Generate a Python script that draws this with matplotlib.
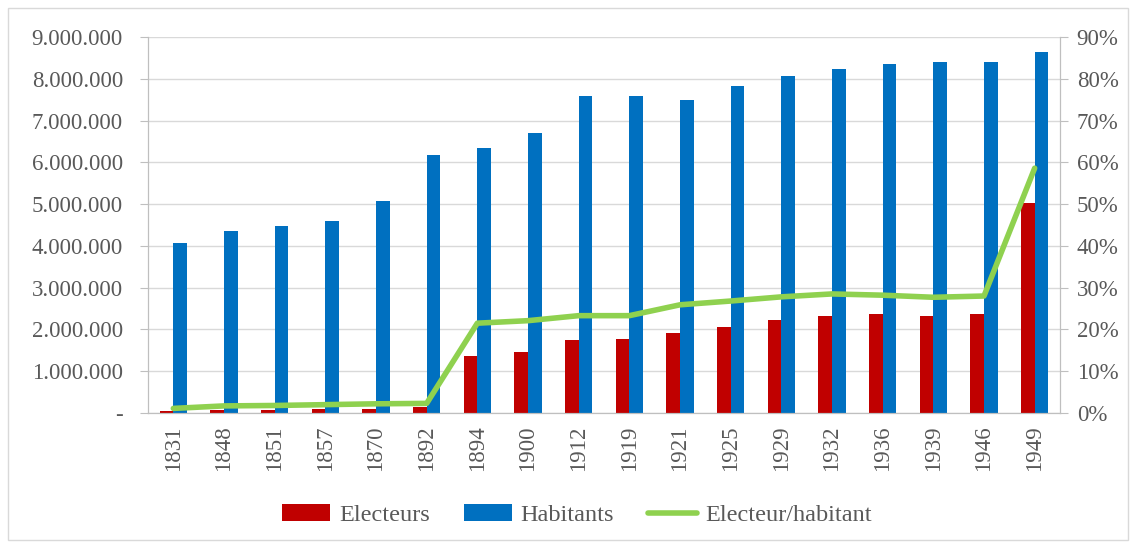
import matplotlib.pyplot as plt
import matplotlib.ticker as mticker
from matplotlib.patches import Rectangle
import numpy as np

years = ["1831", "1848", "1851", "1857", "1870", "1892", "1894", "1900", "1912",
         "1919", "1921", "1925", "1929", "1932", "1936", "1939", "1946", "1949"]
electeurs = [46000, 79000, 81000, 91000, 107000, 137000, 1360000, 1470000, 1750000,
             1760000, 1920000, 2070000, 2230000, 2330000, 2360000, 2330000, 2360000, 5030000]
habitants = [4070000, 4360000, 4480000, 4600000, 5070000, 6180000, 6340000, 6700000, 7590000,
             7590000, 7490000, 7830000, 8070000, 8230000, 8350000, 8400000, 8400000, 8640000]
ratio = [0.011, 0.017, 0.018, 0.020, 0.022, 0.023, 0.215, 0.221, 0.233,
         0.233, 0.259, 0.268, 0.278, 0.285, 0.282, 0.277, 0.280, 0.586]

plt.rcParams['font.family'] = ['Liberation Serif', 'DejaVu Serif']
grey = '#595959'

fig = plt.figure(figsize=(11.31, 5.43), dpi=100)
fig.patches.append(Rectangle((0.007, 0.005), 0.99, 0.98, transform=fig.transFigure,
                             fill=False, edgecolor='#d9d9d9', linewidth=1))
ax = fig.add_axes([148 / 1131, 1 - 413 / 543, 912 / 1131, 376 / 543])
ax2 = ax.twinx()

x = np.arange(len(years))
w = 0.27
ax.bar(x - w / 2, electeurs, w, color='#c00000', label='Electeurs', zorder=2)
ax.bar(x + w / 2, habitants, w, color='#0070c0', label='Habitants', zorder=2)
ax2.plot(x, ratio, color='#8fd14f', linewidth=4, label='Electeur/habitant',
         solid_joinstyle='round', solid_capstyle='round')

ax.set_xlim(-0.5, len(years) - 0.5)
ax.set_ylim(0, 9000000)
ax2.set_ylim(0, 0.9)

def fmt_left(v, pos):
    if v == 0:
        return '-'
    return f"{int(v):,}".replace(',', '.')

ax.yaxis.set_major_locator(mticker.MultipleLocator(1000000))
ax.yaxis.set_major_formatter(mticker.FuncFormatter(fmt_left))
ax2.yaxis.set_major_locator(mticker.MultipleLocator(0.1))
ax2.yaxis.set_major_formatter(mticker.PercentFormatter(1.0, decimals=0))

ax.set_xticks(x)
ax.set_xticklabels(years, rotation=90)
ax.grid(axis='y', color='#d9d9d9', linewidth=1, zorder=0)
ax.set_axisbelow(True)

for a in (ax, ax2):
    for s in a.spines.values():
        s.set_color('#bfbfbf')
    a.spines['top'].set_visible(False)
    a.tick_params(colors=grey, labelsize=16.5, length=6, color='#bfbfbf')
ax.tick_params(axis='x', length=0, pad=9)
ax.tick_params(axis='y', pad=12)
ax2.tick_params(axis='y', pad=6)

h1, l1 = ax.get_legend_handles_labels()
h2, l2 = ax2.get_legend_handles_labels()
fig.legend(h1 + h2, l1 + l2, loc='center', bbox_to_anchor=(0.51, 1 - 515 / 543), ncol=3,
           frameon=False, fontsize=17.5, labelcolor=grey, handlelength=2.0,
           columnspacing=1.4, handletextpad=0.35)

fig.savefig('out.png', dpi=100)
